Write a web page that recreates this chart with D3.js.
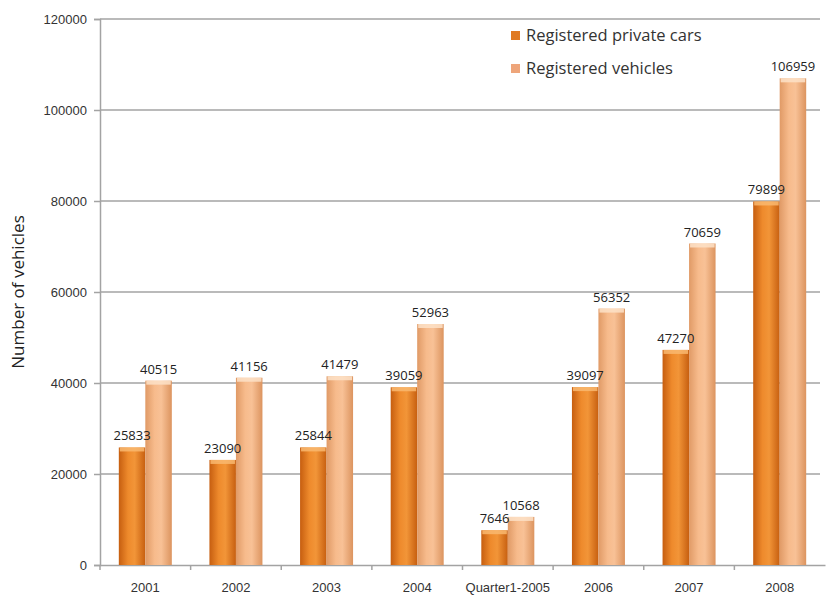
<!DOCTYPE html>
<html>
<head>
<meta charset="utf-8">
<script src="https://cdn.jsdelivr.net/npm/d3@7"></script>
<style>
  html, body { margin: 0; padding: 0; background: #fff; }
  svg { display: block; font-family: "Open Sans", "DejaVu Sans", sans-serif; }
</style>
</head>
<body>
<svg id="chart" width="828" height="596"></svg>
<script>
// Vehicle registrations by year
const categories = ["2001", "2002", "2003", "2004", "Quarter1-2005", "2006", "2007", "2008"];
const privateCars = [25833, 23090, 25844, 39059, 7646, 39097, 47270, 79899];
const allVehicles = [40515, 41156, 41479, 52963, 10568, 56352, 70659, 106959];
const seriesNames = ["Registered private cars", "Registered vehicles"];
const yTicks = [0, 20000, 40000, 60000, 80000, 100000, 120000];

const svg = d3.select("#chart");
const margin = { left: 100, right: 3, top: 19, bottom: 31 };
const W = 828, H = 596;

const x = d3.scaleBand().domain(categories).range([margin.left, W - margin.right]).paddingInner(0).paddingOuter(0);
const y = d3.scaleLinear().domain([0, 120000]).range([H - margin.bottom, margin.top]);

// gradients for cylinder-like shading
const defs = svg.append("defs");
function grad(id, stops) {
  const g = defs.append("linearGradient").attr("id", id).attr("x1", "0").attr("x2", "1").attr("y1", "0").attr("y2", "0");
  stops.forEach(s => g.append("stop").attr("offset", s[0]).attr("stop-color", s[1]));
}
grad("gCar", [[0, "#c65e10"], [0.35, "#ee8a2c"], [0.6, "#f29538"], [1, "#c75f10"]]);
grad("gVeh", [[0, "#e09a66"], [0.35, "#f7bb8c"], [0.6, "#f8c196"], [1, "#dc945f"]]);
const colors = ["url(#gCar)", "url(#gVeh)"];
const topColors = ["#f9b870", "#fde2c8"];
const legendColors = ["#e07a22", "#eea57a"];

// gridlines
svg.append("g").selectAll("line").data(yTicks.slice(1)).join("line")
  .attr("x1", margin.left).attr("x2", W - margin.right - 5)
  .attr("y1", d => y(d)).attr("y2", d => y(d))
  .attr("stroke", "#a3a3a3").attr("stroke-width", 1.5);

// y axis
const yAxis = svg.append("g").attr("transform", `translate(${margin.left},0)`)
  .call(d3.axisLeft(y).tickValues(yTicks).tickSize(6).tickPadding(7).tickFormat(d3.format("d")));
yAxis.select(".domain").attr("stroke", "#a3a3a3").attr("stroke-width", 1.5);
yAxis.selectAll(".tick line").attr("stroke", "#a3a3a3").attr("stroke-width", 1.5);
yAxis.selectAll("text").attr("font-size", 13).attr("fill", "#333");

// x axis
const xAxis = svg.append("g").attr("transform", `translate(0,${y(0)})`)
  .call(d3.axisBottom(x).tickSize(0).tickPadding(18));
xAxis.select(".domain").attr("stroke", "#a3a3a3").attr("stroke-width", 1.5);
xAxis.selectAll("text").attr("font-size", 13).attr("fill", "#333");
// category separator ticks
svg.append("g").selectAll("line").data(categories).join("line")
  .attr("x1", d => x(d)).attr("x2", d => x(d))
  .attr("y1", y(0)).attr("y2", y(0) + 5)
  .attr("stroke", "#a3a3a3").attr("stroke-width", 1.5);

// bars
const inner = d3.scaleBand().domain([0, 1]).range([0, x.bandwidth()]).paddingInner(0).paddingOuter(0.71);
const series = [privateCars, allVehicles];
const barLayer = svg.append("g");
const labelLayer = svg.append("g");
series.forEach((vals, s) => {
  const g = barLayer.append("g");
  const data = categories.map((c, i) => ({ c, v: vals[i] }));
  g.selectAll("rect.bar").data(data).join("rect").attr("class", "bar")
    .attr("x", d => x(d.c) + inner(s))
    .attr("y", d => y(d.v))
    .attr("width", inner.bandwidth())
    .attr("height", d => y(0) - y(d.v))
    .attr("fill", colors[s]);
  g.selectAll("rect.top").data(data).join("rect").attr("class", "top")
    .attr("x", d => x(d.c) + inner(s) + 1)
    .attr("y", d => y(d.v))
    .attr("width", inner.bandwidth() - 2)
    .attr("height", 4)
    .attr("fill", topColors[s]).attr("opacity", 0.85);
  // value labels sit above all bars
  labelLayer.append("g").selectAll("text").data(data).join("text")
    .attr("x", d => x(d.c) + inner(s) + inner.bandwidth() / 2)
    .attr("y", d => y(d.v) - 7)
    .attr("text-anchor", "middle")
    .attr("font-size", 13).attr("fill", "#222")
    .text(d => d.v);
});

// y axis title
svg.append("text")
  .attr("transform", `translate(24,${(y(0) + y(120000)) / 2}) rotate(-90)`)
  .attr("text-anchor", "middle").attr("font-size", 17).attr("fill", "#222")
  .text("Number of vehicles");

// legend
const legend = svg.append("g").attr("transform", "translate(511,37)");
seriesNames.forEach((name, i) => {
  const row = legend.append("g").attr("transform", `translate(0,${i * 33})`);
  row.append("rect").attr("x", 0).attr("y", -6).attr("width", 9).attr("height", 9).attr("fill", legendColors[i]);
  row.append("text").attr("x", 15).attr("y", 4).attr("font-size", 16.5).attr("fill", "#333").text(name);
});
</script>
</body>
</html>
